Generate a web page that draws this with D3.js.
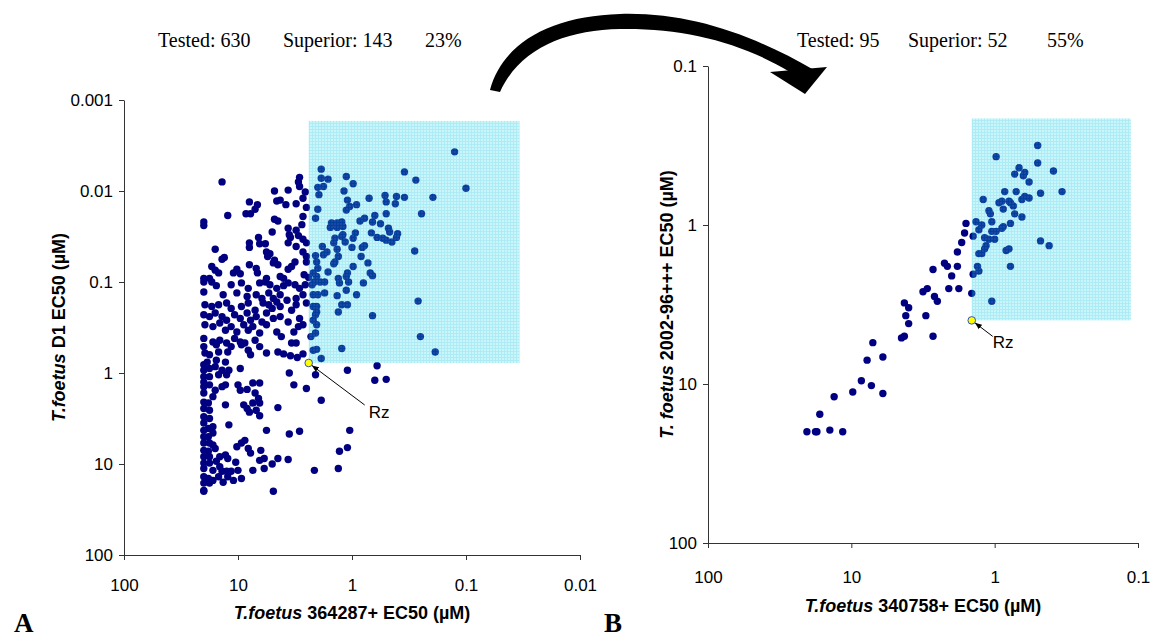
<!DOCTYPE html>
<html>
<head>
<meta charset="utf-8">
<script src="https://cdn.jsdelivr.net/npm/d3@7"></script>
<style>
  body { margin: 0; background: #fff; }
  svg { display: block; }
</style>
</head>
<body>
<div id="chart"></div>
<script>
// EC50 values, stored as log10(EC50 in µM): [x compound, y compound]
const panelAPoints = [
  [1.14,-2.10],[0.46,-2.15],[0.47,-2.10],[0.46,-2.05],[0.56,-2.01],[0.68,-2.00],[0.41,-1.99],
  [0.90,-1.88],[0.83,-1.85],[0.85,-1.80],[0.89,-1.75],[0.93,-1.75],[0.66,-1.89],[0.63,-1.90],[0.58,-1.85],[0.49,-1.86],[0.43,-1.92],[0.40,-1.82],
  [1.09,-1.73],[1.30,-1.66],[1.30,-1.62],[0.68,-1.69],[0.65,-1.67],[0.43,-1.72],[0.44,-1.63],[0.56,-1.59],[0.49,-1.57],[0.70,-1.55],
  [0.55,-1.52],[0.54,-1.49],[0.47,-1.51],[0.43,-1.47],[0.40,-1.43],[0.82,-1.49],[0.90,-1.43],[0.90,-1.38],[0.81,-1.42],[0.76,-1.42],[0.56,-1.43],[0.49,-1.39],
  [1.20,-1.36],[0.75,-1.33],[0.72,-1.31],[0.74,-1.28],[0.43,-1.33],[0.40,-1.28],[0.40,-1.22],[1.12,-1.27],[1.14,-1.25],[0.68,-1.24],[0.65,-1.19],[0.69,-1.21],[0.90,-1.19],[0.50,-1.22],[0.53,-1.17],[0.56,-1.14],
  [1.23,-1.17],[1.20,-1.13],[1.17,-1.10],[1.01,-1.14],[1.04,-1.10],[0.98,-1.09],[0.84,-1.15],[0.83,-1.10],[1.30,-1.04],[1.25,-1.04],[0.75,-1.04],[0.63,-1.06],[0.60,-1.04],[0.42,-1.08],[0.38,-1.05],
  [1.30,-1.00],[1.23,-1.00],[1.19,-0.96],[1.06,-0.97],[0.97,-0.99],[0.91,-0.93],[0.81,-0.99],[0.76,-1.00],[0.72,-0.97],[0.66,-0.93],[0.60,-0.96],[0.56,-0.99],[0.50,-0.97],[0.46,-0.93],[0.41,-0.97],[0.35,-0.97],[0.33,-1.00],
  [1.30,-0.89],[1.13,-0.86],[1.01,-0.88],[0.92,-0.84],[0.84,-0.86],[0.79,-0.82],[0.73,-0.88],[0.69,-0.82],[0.63,-0.86],[0.57,-0.80],[0.49,-0.82],[0.43,-0.86],[0.34,-0.86],
  [1.29,-0.75],[1.23,-0.73],[1.17,-0.75],[1.10,-0.77],[1.06,-0.71],[0.97,-0.73],[0.91,-0.77],[0.85,-0.69],[0.78,-0.77],[0.73,-0.75],[0.70,-0.71],[0.66,-0.78],[0.63,-0.73],[0.53,-0.69],[0.49,-0.75],[0.40,-0.77],[0.34,-0.73],[0.31,-0.67],
  [1.30,-0.64],[1.25,-0.62],[1.20,-0.66],[1.14,-0.62],[1.10,-0.58],[1.03,-0.64],[0.98,-0.60],[0.92,-0.66],[0.89,-0.58],[0.84,-0.62],[0.79,-0.56],[0.75,-0.66],[0.69,-0.60],[0.63,-0.62],[0.56,-0.56],[0.46,-0.60],[0.43,-0.53],[0.34,-0.58],
  [1.29,-0.53],[1.22,-0.51],[1.16,-0.55],[1.11,-0.47],[1.06,-0.51],[1.01,-0.45],[0.95,-0.53],[0.91,-0.47],[0.87,-0.51],[0.81,-0.44],[0.75,-0.53],[0.66,-0.45],[0.51,-0.45],[0.47,-0.51],[0.31,-0.53],
  [1.30,-0.38],[1.22,-0.34],[1.16,-0.36],[1.10,-0.33],[1.03,-0.38],[0.98,-0.34],[0.94,-0.33],[0.85,-0.36],[0.81,-0.29],[1.30,-0.29],[1.19,-0.31],[1.06,-0.29],[0.97,-0.31],[0.62,-0.40],[0.53,-0.33],[0.49,-0.33],[0.32,-0.44],
  [1.29,-0.22],[1.25,-0.20],[1.17,-0.23],[1.09,-0.23],[0.91,-0.25],[0.89,-0.20],[0.75,-0.22],[0.65,-0.23],[0.60,-0.21],[0.54,-0.19],[0.48,-0.17],[0.43,-0.21],[0.34,-0.25],[1.19,-0.14],[1.11,-0.12],[1.27,-0.12],
  [1.30,-0.09],[1.30,-0.03],[1.25,-0.05],[1.20,-0.07],[1.14,-0.03],[1.08,-0.03],[0.98,-0.05],[1.30,0.04],[1.25,0.04],[1.17,0.02],[1.10,0.02],[0.55,0.00],[0.32,0.02],
  [1.30,0.10],[1.30,0.15],[1.30,0.22],[1.25,0.13],[1.20,0.19],[1.14,0.15],[1.11,0.13],[1.00,0.13],[0.98,0.19],[0.92,0.18],[0.87,0.11],[0.81,0.11],[0.85,0.22],[0.82,0.28],[0.51,0.13],[0.40,0.17],[1.22,0.26],
  [1.30,0.32],[1.26,0.33],[1.30,0.39],[1.25,0.41],[1.11,0.35],[0.95,0.35],[0.92,0.39],[0.90,0.43],[0.87,0.33],[0.81,0.33],[0.84,0.41],[0.81,0.47],[0.65,0.38],
  [1.30,0.48],[1.30,0.55],[1.25,0.50],[1.30,0.63],[1.26,0.61],[1.22,0.59],[1.22,0.66],[1.30,0.70],[1.26,0.70],[1.08,0.57],[0.75,0.63],[0.55,0.67],[0.46,0.64],
  [1.30,0.77],[1.25,0.77],[1.22,0.79],[1.30,0.85],[1.26,0.86],[1.20,0.83],[1.01,0.81],[0.97,0.77],[0.94,0.74],[0.91,0.83],[0.89,0.88],[0.80,0.85],
  [1.30,0.92],[1.25,0.92],[1.16,0.92],[1.11,0.90],[1.09,0.94],[0.81,0.96],[0.77,0.94],[0.70,1.00],[0.65,0.94],[0.56,0.95],
  [1.30,0.99],[1.25,0.99],[1.19,0.97],[1.16,1.03],[1.30,1.05],[1.22,1.07],[1.14,1.08],[1.10,1.08],[1.06,1.08],[1.02,0.98],[1.00,1.07],[0.87,1.07],[0.77,1.05],[0.33,1.07],
  [1.30,1.14],[1.26,1.16],[1.22,1.18],[1.17,1.14],[1.13,1.20],[1.09,1.14],[1.04,1.18],[0.97,1.16],[1.30,1.21],[1.25,1.21],[1.30,1.29],[1.30,1.30],[0.69,1.30],
  [0.27,-2.24],[0.27,-2.14],[0.21,-2.13],[0.30,-2.04],[0.25,-2.05],[0.05,-2.16],[-0.01,-2.08],[0.07,-2.00],[0.29,-1.96],[0.04,-1.90],[0.02,-1.83],[0.05,-1.79],[-0.04,-1.85],[0.30,-1.80],[0.32,-1.70],
  [-0.15,-1.92],[-0.29,-1.95],[-0.30,-1.88],[-0.39,-1.94],[-0.46,-1.93],[-0.38,-1.86],[-0.46,-2.21],[-0.56,-2.12],[-0.71,-1.93],[-0.90,-2.43],[-1.00,-2.03],[-0.61,-1.75],[-0.30,-1.75],[-0.20,-1.73],[-0.18,-1.66],[-0.11,-1.70],[-0.07,-1.67],[-0.25,-1.64],
  [0.18,-1.65],[0.13,-1.65],[0.09,-1.66],[0.19,-1.60],[0.13,-1.60],[0.08,-1.61],[-0.03,-1.54],[-0.01,-1.48],[0.08,-1.52],[0.09,-1.50],[0.15,-1.48],[0.16,-1.43],[0.06,-1.44],[-0.17,-1.54],[-0.22,-1.49],[-0.32,-1.59],[-0.33,-1.55],[-0.40,-1.53],[-0.39,-1.49],[-0.27,-1.48],[-0.30,-1.46],[-0.35,-1.44],
  [-0.11,-1.40],[-0.09,-1.38],[0.00,-1.38],[0.26,-1.39],[0.25,-1.30],[0.22,-1.33],[0.13,-1.36],[0.12,-1.28],[-0.08,-1.28],[0.32,-1.29],[-0.14,-1.21],[-0.55,-1.34],[0.31,-1.22],[0.30,-1.15],[0.16,-1.20],[0.15,-1.22],[-0.01,-1.17],[0.21,-1.11],[0.04,-1.10],[0.05,-1.06],[-0.16,-1.10],[-0.18,-1.07],[0.12,-1.04],[0.34,-1.10],[0.31,-1.06],
  [0.28,-1.00],[0.24,-1.00],[0.11,-0.99],[0.03,-1.00],[-0.10,-0.99],[0.30,-0.86],[0.24,-0.88],[0.13,-0.85],[0.05,-0.91],[-0.04,-0.86],[0.09,-0.75],[0.04,-0.75],[0.12,-0.67],[0.31,-0.73],[0.32,-0.64],[-0.18,-0.63],[-0.58,-0.79],[0.36,-0.40],[-0.60,-0.40],[0.31,-0.26],[0.09,-0.27],[-0.73,-0.23],[0.27,-0.16],
  [0.04,-0.03],[-0.22,-0.08],[-0.20,0.08],[-0.30,0.07],[0.27,0.30],[0.02,0.63],[0.11,0.86],[0.04,0.82],[0.12,1.05]
];
const panelARz = [0.38, -0.11];
const panelABoxCorner = [-1.47, -2.77];   // far corner of the shaded "superior" box
const panelAXTicks = [100, 10, 1, 0.1, 0.01];
const panelAYTicks = [0.001, 0.01, 0.1, 1, 10, 100];
const panelAStats = ["Tested: 630", "Superior: 143", "23%"];

const panelBPoints = [
  [1.31,1.30],[1.25,1.30],[1.24,1.30],[1.15,1.29],[1.06,1.30],[1.22,1.19],[1.12,1.08],[0.99,1.05],[0.93,0.98],[0.86,1.01],[0.78,1.06],
  [0.89,0.85],[0.78,0.83],[0.85,0.74],[0.65,0.71],[0.63,0.70],[0.43,0.70],[0.60,0.62],[0.62,0.57],[0.48,0.57],[0.63,0.49],[0.60,0.52],
  [0.50,0.42],[0.47,0.40],[0.42,0.45],[0.40,0.48],[0.32,0.40],[0.25,0.40],[0.16,0.43],
  [0.43,0.28],[0.35,0.24],[0.33,0.26],[0.26,0.26],[0.30,0.32],[0.15,0.31],[0.26,0.17],[0.23,0.11],[0.21,0.05],[0.20,-0.01],[0.13,-0.02],
  [0.15,0.07],[0.11,0.03],[0.09,0.00],[0.12,0.26],[0.11,0.29],[0.11,0.18],[0.09,0.18],[0.07,0.08],[0.06,0.13],[0.07,0.15],[0.04,0.09],
  [0.00,0.09],[0.02,0.48],[0.02,0.04],[-0.01,0.04],[-0.05,0.02],[-0.06,0.01],[-0.11,-0.01],[0.02,-0.02],[0.04,-0.09],[0.03,-0.07],
  [0.08,-0.16],[-0.03,-0.14],[-0.05,-0.15],[-0.06,-0.10],[-0.10,-0.15],[-0.11,-0.14],[-0.13,-0.12],[-0.14,-0.07],[-0.19,-0.05],
  [-0.07,-0.21],[-0.15,-0.21],[-0.19,-0.16],[-0.21,-0.18],[-0.24,-0.17],[-0.24,-0.27],[-0.14,-0.32],[-0.17,-0.36],[-0.20,-0.31],[-0.21,-0.33],
  [-0.01,-0.43],[-0.30,-0.50],[-0.30,-0.39],[-0.41,-0.34],[-0.32,-0.20],[-0.47,-0.21],[-0.10,0.15],[-0.08,0.16],[-0.11,0.26],[-0.32,0.10],[-0.38,0.13]
];
const panelBRz = [0.16, 0.60];
const panelBBoxCorner = [-0.95, -0.67];
const panelBXTicks = [100, 10, 1, 0.1];
const panelBYTicks = [0.1, 1, 10, 100];
const panelBStats = ["Tested: 95", "Superior: 52", "55%"];

const toUM = l => Math.pow(10, l);
const sans = "'Liberation Sans', Arial, sans-serif";
const serif = "'Liberation Serif', 'Times New Roman', serif";

const svg = d3.select("#chart").append("svg")
    .attr("width", 1155)
    .attr("height", 639);

const defs = svg.append("defs");
const pat = defs.append("pattern")
    .attr("id", "cyanGrid")
    .attr("width", 3).attr("height", 3)
    .attr("patternUnits", "userSpaceOnUse");
pat.append("rect").attr("width", 3).attr("height", 3).attr("fill", "#58e0f0");
pat.append("path").attr("d", "M0,0.5H3M0.5,0V3").attr("stroke", "#00c4dc").attr("stroke-width", 1);

defs.append("marker")
    .attr("id", "tip")
    .attr("viewBox", "0 0 10 10")
    .attr("refX", 10).attr("refY", 5)
    .attr("markerWidth", 7).attr("markerHeight", 7)
    .attr("orient", "auto-start-reverse")
  .append("path")
    .attr("d", "M0,1L10,5L0,9z")
    .attr("fill", "#000");

function drawPanel(p) {
    const x = d3.scaleLog().domain(p.xDomain).range(p.xRange);
    const y = d3.scaleLog().domain(p.yDomain).range(p.yRange);
    const g = svg.append("g");

    // axes
    const xAxis = g.append("g")
        .attr("transform", `translate(0,${p.yRange[1]})`)
        .call(d3.axisBottom(x).tickValues(p.xTicks).tickFormat(d => String(d))
            .tickSize(5).tickSizeOuter(0).tickPadding(p.xPad));
    const yAxis = g.append("g")
        .attr("transform", `translate(${p.xRange[0]},0)`)
        .call(d3.axisLeft(y).tickValues(p.yTicks).tickFormat(d => String(d))
            .tickSize(5).tickSizeOuter(0).tickPadding(6));
    [xAxis, yAxis].forEach(a => {
        a.attr("font-family", sans).attr("font-size", 17);
        a.selectAll("path, line").attr("stroke", "#333");
        a.selectAll("text").attr("fill", "#000");
    });

    // points
    g.selectAll("circle.pt")
        .data(p.points)
        .enter()
        .append("circle")
        .attr("class", "pt")
        .attr("cx", d => x(toUM(d[0])))
        .attr("cy", d => y(toUM(d[1])))
        .attr("r", 3.7)
        .attr("fill", "#000080");

    // shaded "superior" box, from Rz to the far corner
    const rx = x(toUM(p.rz[0])), ry = y(toUM(p.rz[1]));
    const cx = x(toUM(p.corner[0])), cy = y(toUM(p.corner[1]));
    g.append("rect")
        .attr("x", rx).attr("y", cy)
        .attr("width", cx - rx).attr("height", ry - cy)
        .attr("fill", "url(#cyanGrid)")
        .attr("opacity", 0.32);

    // Rz reference compound
    const lx = rx + p.rzLine[0], ly = ry + p.rzLine[1];
    const len = Math.hypot(p.rzLine[0], p.rzLine[1]);
    g.append("line")
        .attr("x1", rx + p.rzLine[0] / len * 4).attr("y1", ry + p.rzLine[1] / len * 4)
        .attr("x2", lx).attr("y2", ly)
        .attr("stroke", "#000").attr("stroke-width", 1)
        .attr("marker-start", "url(#tip)");
    g.append("circle")
        .attr("cx", rx).attr("cy", ry).attr("r", 3.8)
        .attr("fill", "#ffff00").attr("stroke", "#3050c8").attr("stroke-width", 1);
    g.append("text")
        .attr("x", rx + p.rzText[0]).attr("y", ry + p.rzText[1])
        .attr("font-family", sans).attr("font-size", 17)
        .text("Rz");

    // stats line
    g.selectAll("text.stat")
        .data(p.stats)
        .enter()
        .append("text")
        .attr("class", "stat")
        .attr("x", (d, i) => p.statX[i])
        .attr("y", 47)
        .attr("font-family", serif)
        .attr("font-size", 20)
        .text(d => d);

    // axis titles
    const xt = g.append("text")
        .attr("x", (p.xRange[0] + p.xRange[1]) / 2)
        .attr("y", p.xTitleY)
        .attr("text-anchor", "middle")
        .attr("font-family", sans).attr("font-size", 18).attr("font-weight", "bold");
    xt.append("tspan").attr("font-style", "italic").text(p.xTitle[0]);
    xt.append("tspan").text(p.xTitle[1]);

    const yt = g.append("text")
        .attr("transform", `translate(${p.yTitleX},${(p.yRange[0] + p.yRange[1]) / 2}) rotate(-90)`)
        .attr("text-anchor", "middle")
        .attr("font-family", sans).attr("font-size", 18).attr("font-weight", "bold");
    yt.append("tspan").attr("font-style", "italic").text(p.yTitle[0]);
    yt.append("tspan").text(p.yTitle[1]);

    // panel letter
    g.append("text")
        .attr("x", p.letterX).attr("y", 632)
        .attr("font-family", serif).attr("font-size", 27).attr("font-weight", "bold")
        .text(p.letter);
}

drawPanel({
    points: panelAPoints, rz: panelARz, corner: panelABoxCorner,
    xDomain: [100, 0.01], xRange: [124, 580],
    yDomain: [0.001, 100], yRange: [100, 555],
    xTicks: panelAXTicks, yTicks: panelAYTicks, xPad: 19,
    stats: panelAStats, statX: [158, 283, 425],
    xTitle: ["T.foetus", " 364287+ EC50 (\u00b5M)"], xTitleY: 619,
    yTitle: ["T.foetus", " D1 EC50 (\u00b5M)"], yTitleX: 65,
    rzLine: [56, 42], rzText: [60, 55],
    letter: "A", letterX: 14
});

drawPanel({
    points: panelBPoints, rz: panelBRz, corner: panelBBoxCorner,
    xDomain: [100, 0.1], xRange: [708, 1138],
    yDomain: [0.1, 100], yRange: [66, 543],
    xTicks: panelBXTicks, yTicks: panelBYTicks, xPad: 23,
    stats: panelBStats, statX: [797, 908, 1047],
    xTitle: ["T.foetus", " 340758+ EC50 (\u00b5M)"], xTitleY: 612,
    yTitle: ["T. foetus", " 2002-96+++ EC50 (\u00b5M)"], yTitleX: 673,
    rzLine: [21, 16], rzText: [21, 28],
    letter: "B", letterX: 604
});

// big curved arrow from panel A to panel B
svg.append("path")
    .attr("d", "M490,90 C503,42 552,16 620,14 C688,12 752,34 814,70 L790,72 C740,42 684,28 620,29 C566,30 520,48 500,92 Z")
    .attr("fill", "#000");
svg.append("path")
    .attr("d", "M770,72 L827,67 L805,94 Z")
    .attr("fill", "#000");
</script>
</body>
</html>
